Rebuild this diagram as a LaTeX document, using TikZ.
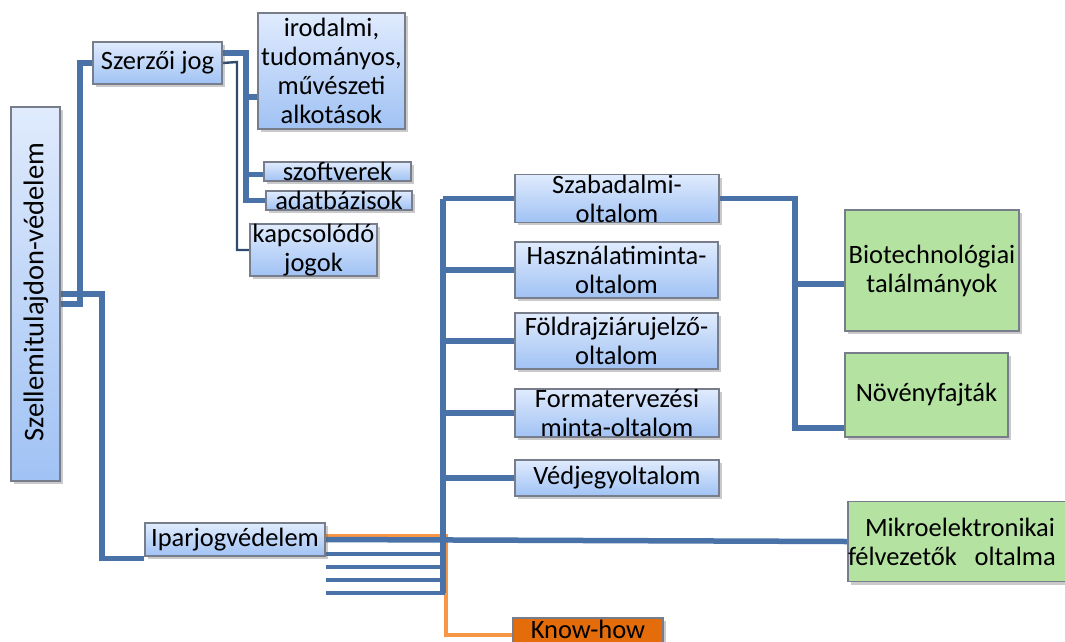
\documentclass[tikz,border=0pt]{standalone}
\usepackage{fontspec}
\setmainfont{Carlito}
\usetikzlibrary{shadows,backgrounds}
\definecolor{lnc}{RGB}{72,114,168}
\definecolor{bxtop}{RGB}{224,235,253}
\definecolor{bxbot}{RGB}{160,194,244}
\definecolor{bxborder}{RGB}{120,125,140}
\definecolor{grn}{RGB}{180,226,161}
\definecolor{orgbox}{RGB}{228,108,10}
\definecolor{orgln}{RGB}{247,150,70}
\tikzset{
  box/.style={draw=bxborder, line width=1.2pt, inner sep=0pt, align=center,
     font=\fontsize{26.5}{29}\selectfont,
     drop shadow={shadow xshift=3pt, shadow yshift=-3pt, opacity=0.35, fill=black!60}},
  bluebox/.style={box, top color=bxtop, bottom color=bxbot},
  greenbox/.style={box, fill=grn},
  orangebox/.style={box, fill=orgbox},
  lnthick/.style={draw=lnc, line width=5.5pt},
  lnmid/.style={draw=lnc, line width=4.5pt},
  lnthin/.style={draw=lnc!65!black, line width=2.4pt},
  lnorg/.style={draw=orgln, line width=4.5pt},
  txt/.style={inner sep=0pt, font=\fontsize{28.5}{30}\selectfont},
  btxt/.style={inner sep=0pt, font=\fontsize{26.5}{29}\selectfont}
}
\begin{document}
\begin{tikzpicture}[x=1pt,y=-1pt]
\useasboundingbox (0,0) rectangle (1065,641);
% ---- coordinates ----
\coordinate (rv1) at (80,304);
\coordinate (rv2) at (102,294);
\coordinate (sv) at (246,53);
\coordinate (tv) at (237,62);
\coordinate (bv) at (795,198.5);
\coordinate (ttop) at (443,198.5);
\coordinate (tbot) at (443,593);
\coordinate (e1) at (445,554);
\coordinate (e2) at (445,567);
\coordinate (e3) at (445,580);
\coordinate (e4) at (445,593);
\coordinate (ov) at (446,536.5);
% ---- boxes ----
\node[bluebox, minimum width=49pt, minimum height=374pt] (root) at (35.5,294) {};
\node[txt, rotate=90] (roottxt) at (36,292) {Szellemitulajdon-védelem};
\node[bluebox, minimum width=129pt, minimum height=42pt] (szerzo) at (157.5,63) {Szerzői jog};
\node[bluebox, minimum width=147pt, minimum height=116pt] (irod) at (331.5,71) {irodalmi,\\tudományos,\\művészeti\\alkotások};
\node[bluebox, minimum width=147pt, minimum height=19pt] (szoft) at (337.5,171.5) {szoftverek};
\node[bluebox, minimum width=146pt, minimum height=19pt] (adat) at (339,200.5) {adatbázisok};
\node[bluebox, minimum width=127pt, minimum height=50pt] (kapcs) at (313.5,250) {kapcsolódó\\jogok};
\node[bluebox, minimum width=180pt, minimum height=33pt] (ipar) at (235,539.5) {Iparjogvédelem};
\node[bluebox, minimum width=204pt, minimum height=45pt] (szab) at (617,198.5) {Szabadalmi-\\oltalom};
\node[bluebox, minimum width=203pt, minimum height=56pt] (hasz) at (616.5,270) {Használatiminta-\\oltalom};
\node[bluebox, minimum width=203pt, minimum height=56pt] (fold) at (616.5,341) {Földrajziárujelző-\\oltalom};
\node[bluebox, minimum width=204pt, minimum height=48pt] (forma) at (617,413) {Formatervezési\\minta-oltalom};
\node[bluebox, minimum width=204pt, minimum height=36pt] (vedj) at (617,478) {Védjegyoltalom};
\node[greenbox, minimum width=174pt, minimum height=121pt] (bio) at (932,270.5) {Biotechnológiai\\találmányok};
\node[greenbox, minimum width=163pt, minimum height=84pt] (nov) at (926.5,395) {Növényfajták};
\node[greenbox, minimum width=227pt, minimum height=80pt, text width=227pt, align=left] (mikro) at (961.5,541.5) {\hspace*{17pt}Mikroelektronikai\\\hspace*{0pt}félvezetők\ \ oltalma};
\node[orangebox, minimum width=150pt, minimum height=34pt] (know) at (588,635) {};
\node[btxt, anchor=base] (knowtxt) at (588,638) {Know-how};
% ---- connectors ----
\begin{pgfonlayer}{background}
\draw[lnthick] ([yshift=-10pt]root.east) -- (rv1) |- (szerzo.west);
\draw[lnthick] (root.east) -- (rv2) |- ([yshift=-2pt]ipar.south west);
\draw[lnthick] ([yshift=10pt]szerzo.east) -- (sv) |- (adat.west);
\draw[lnthick] (sv) |- ([yshift=-26pt]irod.west);
\draw[lnthick] (sv) |- ([yshift=-3pt]szoft.west);
\draw[lnthin] (szerzo.east) -- (tv) |- (kapcs.west);
\draw[lnorg] ([yshift=3pt]ipar.east) -- (ov) |- (know.west);
\draw[lnthick] (ttop) -- (tbot);
\draw[lnthick] (ttop) -- (szab.west);
\draw[lnthick] (hasz.west -| ttop) -- (hasz.west);
\draw[lnthick] (fold.west -| ttop) -- (fold.west);
\draw[lnthick] (forma.west -| ttop) -- (forma.west);
\draw[lnthick] (vedj.west -| ttop) -- (vedj.west);
\draw[lnthick] (ipar.east) -- (mikro.west);
\draw[lnmid] ([yshift=-14.5pt]ipar.east) -- (e1);
\draw[lnmid] ([yshift=-27.5pt]ipar.east) -- (e2);
\draw[lnmid] ([yshift=-40.5pt]ipar.east) -- (e3);
\draw[lnmid] ([yshift=-53.5pt]ipar.east) -- (e4);
\draw[lnthick] (szab.east) -- (bv) |- ([yshift=-33pt]nov.west);
\draw[lnthick] (bv) |- ([yshift=-13.5pt]bio.west);
\end{pgfonlayer}
\end{tikzpicture}
\end{document}
